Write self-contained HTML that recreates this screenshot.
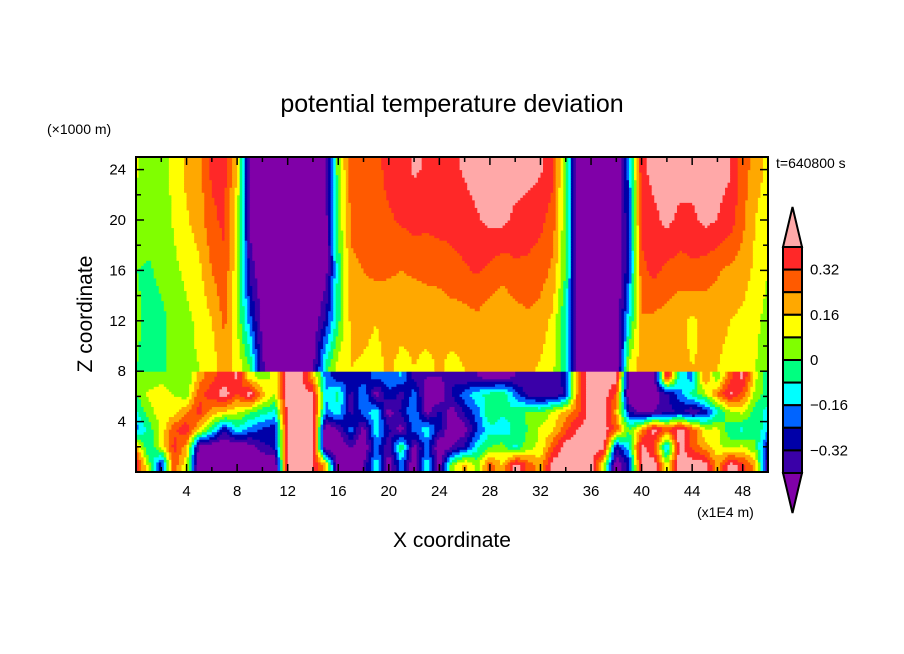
<!DOCTYPE html>
<html><head><meta charset="utf-8"><style>
html,body{margin:0;padding:0;background:#fff;}
svg{display:block;font-family:"Liberation Sans",sans-serif;}
</style></head><body>
<svg id="chart" width="904" height="654" viewBox="0 0 904 654">
<text x="452" y="112" text-anchor="middle" font-size="25" fill="#000">potential temperature deviation</text>
<text x="47" y="134" font-size="14" fill="#000">(×1000 m)</text>
<text x="776" y="168" font-size="14" fill="#000">t=640800 s</text>
<text x="452" y="547" text-anchor="middle" font-size="21" fill="#000">X coordinate</text>
<text x="697" y="517" font-size="14" fill="#000">(x1E4 m)</text>
<text transform="translate(92,314) rotate(-90)" text-anchor="middle" font-size="21" fill="#000">Z coordinate</text>
<g id="field"></g>
<g id="axes"></g>
<g id="cbar"></g>
</svg>
<script>
const levels = [-0.40,-0.32,-0.24,-0.16,-0.08,0,0.08,0.16,0.24,0.32,0.40];
const colors = ["#8000a8","#3a00a8","#0000a8","#0064ff","#00ffff","#00ff80","#80ff00","#ffff00","#ffa800","#ff5a00","#ff2828","#ffa8a8"];
const cbarLabels = ["0.32","0.16","0","-0.16","-0.32"];
const cbarLabelLevels = [0.32,0.16,0,-0.16,-0.32];
const xTicks = [4,8,12,16,20,24,28,32,36,40,44,48];
const zTicks = [4,8,12,16,20,24];
const upperZ = [24,20,16,12,8.3];
const upper24 = [.09,.04,.05,.10,.18,.21,.34,.34,.15,-.42,-.5,-.5,-.5,-.5,-.5,-.42,.05,.27,.29,.30,.34,.36,.41,.39,.37,.38,.41,.44,.44,.44,.44,.43,.41,.34,.0,-.5,-.5,-.5,-.5,-.2,.38,.43,.44,.44,.44,.44,.43,.41,.28,.20,.14];
const upper20 = [.05,.03,.04,.09,.15,.20,.30,.34,.12,-.42,-.5,-.5,-.5,-.5,-.5,-.45,.02,.26,.28,.30,.31,.33,.35,.34,.35,.34,.36,.39,.42,.42,.38,.36,.34,.28,.0,-.5,-.5,-.5,-.5,-.25,.34,.38,.42,.38,.38,.42,.40,.36,.26,.16,.10];
const upper16 = [.0,-.01,.02,.06,.10,.14,.24,.30,.10,-.35,-.48,-.5,-.5,-.5,-.5,-.45,-.05,.22,.24,.26,.25,.24,.25,.26,.27,.30,.31,.33,.30,.26,.30,.30,.28,.22,.0,-.5,-.5,-.5,-.5,-.25,.30,.34,.30,.28,.30,.28,.25,.22,.20,.14,.08];
const upper12 = [.02,-.03,-.02,.02,.06,.10,.16,.26,.08,-.2,-.44,-.5,-.5,-.5,-.48,-.3,-.02,.18,.18,.16,.19,.18,.18,.19,.18,.19,.20,.22,.18,.18,.20,.22,.20,.14,-.1,-.5,-.5,-.5,-.5,-.1,.23,.22,.20,.18,.14,.18,.18,.16,.14,.10,.05];
const upper8 = [.0,-.02,-.02,.02,.06,.08,.12,.20,.14,.0,-.38,-.5,-.5,-.5,-.42,-.05,.12,.16,.15,.14,.17,.14,.16,.14,.17,.14,.16,.18,.17,.18,.18,.18,.15,.10,-.1,-.5,-.5,-.5,-.5,.10,.20,.22,.20,.18,.16,.17,.16,.14,.12,.08,.04];
const lowerZ = [7.6,6.2,4.8,3.4,2.0,0.6];
const lower76 = [.05,.02,.05,.02,.0,.20,.30,.35,.42,.10,.05,.10,.45,.45,.2,-.2,-.3,-.25,-.3,-.2,-.2,-.15,-.35,-.4,-.4,-.35,-.4,-.4,-.45,-.45,-.4,-.4,-.35,-.35,-.3,.3,.45,.45,.45,-.45,-.5,-.45,.42,-.1,-.2,.25,.0,.3,.42,.1,-.05];
const lower62 = [.0,.10,.12,.08,.03,.30,.36,.45,.30,.45,.2,.08,.45,.45,.42,-.15,-.05,-.35,-.15,-.45,-.25,-.35,-.2,-.45,-.5,-.3,-.2,-.1,-.05,.0,-.2,-.35,-.4,-.38,-.3,.3,.45,.45,.3,-.5,-.5,-.45,-.35,-.2,-.05,.05,.25,.42,.3,.05,-.05];
const lower48 = [-.1,.05,.12,.12,.24,.35,.2,.15,.1,.02,-.05,-.1,.45,.45,.45,-.2,-.1,-.35,-.2,-.1,-.45,-.3,-.15,-.45,-.3,-.45,-.3,-.2,.0,-.05,-.05,.02,.0,.1,.2,.3,.45,.45,.2,-.3,-.45,-.4,-.35,-.3,-.4,-.3,-.1,.05,.1,-.05,-.1];
const lower34 = [-.2,-.05,.1,.3,.38,.15,-.05,-.3,-.1,-.2,-.25,-.3,.45,.45,.45,-.5,-.4,-.2,-.45,-.1,-.3,-.45,-.2,-.1,-.3,-.5,-.45,-.25,-.1,-.15,-.05,.0,.1,.15,.3,.42,.45,.45,.3,.0,.2,.45,.3,.45,.3,.1,.1,-.05,-.1,.0,-.15];
const lower20 = [.2,-.1,.1,.35,.2,-.45,-.5,-.5,-.5,-.45,-.35,-.3,.45,.45,.45,-.5,-.5,-.4,-.5,-.2,-.4,.0,-.45,-.2,-.5,-.4,-.3,-.1,.0,.05,-.1,.05,.1,.3,.45,.45,.45,.45,-.3,-.1,.45,.3,-.2,.45,.3,.2,.1,.05,.1,.0,-.3];
const lower06 = [.42,.05,-.3,.3,.1,-.5,-.5,-.5,-.5,-.5,-.5,-.5,.45,.45,.4,.2,-.5,-.5,-.4,-.1,-.45,-.2,-.5,-.1,-.45,.05,.2,.05,.3,.15,.45,.3,.2,.45,.45,.45,.45,.1,-.5,-.3,.45,.45,.1,.45,.45,.45,.2,.45,.35,.2,-.4];

const upperRows=[upper24,upper20,upper16,upper12,upper8];
const lowerRows=[lower76,lower62,lower48,lower34,lower20,lower06];
const X0=136,X1=768,Y0=157,Y1=472;
const sx=x=>X0+(x/50)*(X1-X0);
const sz=z=>Y1-(z/25)*(Y1-Y0);
const NS="http://www.w3.org/2000/svg";
function colIdx(v){let i=0;while(i<levels.length&&v>=levels[i])i++;return i;}
function rowAt(rows,x){const i=Math.min(Math.floor(x),49),f=x-i;return rows[i]*(1-f)+rows[i+1]*f;}
function sample(x,z){
  let zs,rows;
  if(z>=8){zs=upperZ;rows=upperRows;}else{zs=lowerZ;rows=lowerRows;}
  if(z>=zs[0])return rowAt(rows[0],x);
  if(z<=zs[zs.length-1])return rowAt(rows[rows.length-1],x);
  for(let k=0;k<zs.length-1;k++){
    if(z<=zs[k]&&z>=zs[k+1]){const f=(zs[k]-z)/(zs[k]-zs[k+1]);return rowAt(rows[k],x)*(1-f)+rowAt(rows[k+1],x)*f;}
  }
  return 0;
}
const field=document.getElementById('field');
const dx=0.2,dz=0.2,nx=Math.round(50/dx),nz=Math.round(25/dz);
for(let j=0;j<nz;j++){
  const zc=(j+0.5)*dz;
  let start=0,cur=colIdx(sample(0.5*dx,zc));
  for(let i=1;i<=nx;i++){
    const c=i<nx?colIdx(sample((i+0.5)*dx,zc)):-1;
    if(c!==cur){
      const r=document.createElementNS(NS,'rect');
      r.setAttribute('x',sx(start*dx));r.setAttribute('width',sx(i*dx)-sx(start*dx)+0.5);
      r.setAttribute('y',sz((j+1)*dz));r.setAttribute('height',sz(j*dz)-sz((j+1)*dz)+0.5);
      r.setAttribute('fill',colors[cur]);
      
      
      field.appendChild(r);
      start=i;cur=c;
    }
  }
}
const axes=document.getElementById('axes');
function line(x1,y1,x2,y2,w,name){const l=document.createElementNS(NS,'line');l.setAttribute('x1',x1);l.setAttribute('y1',y1);l.setAttribute('x2',x2);l.setAttribute('y2',y2);l.setAttribute('stroke','#000');l.setAttribute('stroke-width',w);


axes.appendChild(l);}
function text(x,y,s,anchor,name,parent){const t=document.createElementNS(NS,'text');t.setAttribute('x',x);t.setAttribute('y',y);t.setAttribute('text-anchor',anchor);t.setAttribute('font-size','15');t.textContent=s;


(parent||axes).appendChild(t);}
const frame=document.createElementNS(NS,'rect');
frame.setAttribute('x',X0);frame.setAttribute('y',Y0);frame.setAttribute('width',X1-X0);frame.setAttribute('height',Y1-Y0);
frame.setAttribute('fill','none');frame.setAttribute('stroke','#000');frame.setAttribute('stroke-width','2');


axes.appendChild(frame);
for(let x=2;x<50;x+=2){const L=(x%4===0)?8:5;
  line(sx(x),Y1,sx(x),Y1-L,1.5,'x-tick');line(sx(x),Y0,sx(x),Y0+L,1.5,'x-tick-top');}
xTicks.forEach(x=>text(sx(x),Y1+24,String(x),'middle','x-tick-label'));
for(let z=2;z<25;z+=2){const L=(z%4===0)?8:5;
  line(X0,sz(z),X0+L,sz(z),1.5,'z-tick');line(X1,sz(z),X1-L,sz(z),1.5,'z-tick-right');}
zTicks.forEach(z=>text(X0-10,sz(z)+5,String(z),'end','z-tick-label'));
const cb=document.getElementById('cbar');
const CX0=783,CX1=802,CT=247,CB=473,n=10,bh=(CB-CT)/n;
function poly(pts,fill,name){const p=document.createElementNS(NS,'polygon');p.setAttribute('points',pts);p.setAttribute('fill',fill);p.setAttribute('stroke','#000');p.setAttribute('stroke-width','2');


cb.appendChild(p);}
poly(`${(CX0+CX1)/2},207 ${CX0},${CT} ${CX1},${CT}`,colors[11],'colorbar-top-triangle');
for(let k=0;k<n;k++){
  const r=document.createElementNS(NS,'rect');
  r.setAttribute('x',CX0);r.setAttribute('y',CT+k*bh);r.setAttribute('width',CX1-CX0);r.setAttribute('height',bh);
  r.setAttribute('fill',colors[10-k]);r.setAttribute('stroke','#000');r.setAttribute('stroke-width','2');
  
  
  cb.appendChild(r);
}
poly(`${CX0},${CB} ${CX1},${CB} ${(CX0+CX1)/2},513`,colors[0],'colorbar-bottom-triangle');
const lvY=v=>CT+(0.40-v)/0.08*bh;
cbarLabels.forEach((s,i)=>text(810,lvY(cbarLabelLevels[i])+5,s.replace('-','\u2212'),'start','colorbar-label',cb));
</script>
</body></html>
